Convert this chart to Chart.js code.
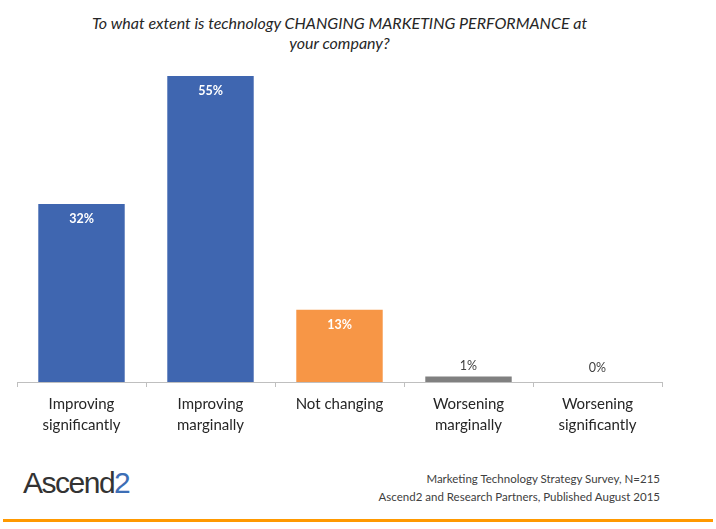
<!DOCTYPE html>
<html>
<head>
<meta charset="utf-8">
<style>
  body { margin: 0; background: #fff; width: 716px; height: 529px; overflow: hidden; position: relative; font-family: Lato, "Open Sans", sans-serif; }
  .title { position: absolute; top: 13px; left: 17px; width: 645px; text-align: center; font-style: italic; font-size: 16px; line-height: 20px; color: #262626; }
  .chart-box { position: absolute; left: 0; top: 0; width: 716px; height: 443px; }
  .logo { position: absolute; left: 23px; top: 466px; font-family: "Liberation Sans", sans-serif; font-size: 30px; letter-spacing: -1.5px; color: #333; }
  .logo span { color: #3d6eb5; }
  .source { position: absolute; right: 56px; top: 470px; text-align: right; font-size: 11.5px; line-height: 18px; color: #404040; }
  .rule { position: absolute; left: 3px; top: 519px; width: 710px; height: 3px; background: #ff9900; }
</style>
</head>
<body>
<div class="title">To what extent is technology CHANGING MARKETING PERFORMANCE at<br>your company?</div>
<div class="chart-box"><canvas id="techChart"></canvas></div>
<div class="logo">Ascend<span>2</span></div>
<div class="source">Marketing Technology Strategy Survey, N=215<br>Ascend2 and Research Partners, Published August 2015</div>
<div class="rule"></div>

<script src="https://cdn.jsdelivr.net/npm/chart.js"></script>
<script>
const categories = [
  ['Improving', 'significantly'],
  ['Improving', 'marginally'],
  ['Not changing'],
  ['Worsening', 'marginally'],
  ['Worsening', 'significantly']
];
const shares = [32, 55, 13, 1, 0];
const barColors = ['#3f66b0', '#3f66b0', '#f79646', '#808080', '#808080'];

// value labels: inside the bar for big ones, above it for small ones
const valueLabels = {
  id: 'valueLabels',
  afterDatasetsDraw(chart) {
    const ctx = chart.ctx;
    const meta = chart.getDatasetMeta(0);
    ctx.save();
    ctx.textAlign = 'center';
    meta.data.forEach((bar, i) => {
      const v = shares[i];
      if (v >= 10) {
        ctx.font = 'bold 12.5px Lato, sans-serif';
        ctx.fillStyle = '#ffffff';
        ctx.textBaseline = 'top';
        ctx.fillText(v + '%', bar.x, bar.y + 9);
      } else {
        ctx.font = '12.5px Lato, sans-serif';
        ctx.fillStyle = '#404040';
        ctx.textBaseline = 'bottom';
        ctx.fillText(v + '%', bar.x, Math.min(bar.y - 4, bar.base - 8));
      }
    });
    ctx.restore();
  }
};

new Chart(document.getElementById('techChart'), {
  type: 'bar',
  data: {
    labels: categories,
    datasets: [{
      data: shares,
      backgroundColor: barColors,
      categoryPercentage: 0.67,
      barPercentage: 1
    }]
  },
  options: {
    responsive: true,
    maintainAspectRatio: false,
    animation: false,
    layout: { padding: { left: 17, right: 54, top: 76, bottom: 0 } },
    scales: {
      x: {
        grid: { drawOnChartArea: false, drawTicks: true, tickLength: 5, color: '#bfbfbf' },
        border: { color: '#bfbfbf' },
        ticks: { color: '#262626', font: { family: 'Lato', size: 15, lineHeight: 1.4 }, padding: 7, maxRotation: 0, autoSkip: false }
      },
      y: { display: false, min: 0, max: 55 }
    },
    plugins: { legend: { display: false }, tooltip: { enabled: false } }
  },
  plugins: [valueLabels]
});
</script>
</body>
</html>
